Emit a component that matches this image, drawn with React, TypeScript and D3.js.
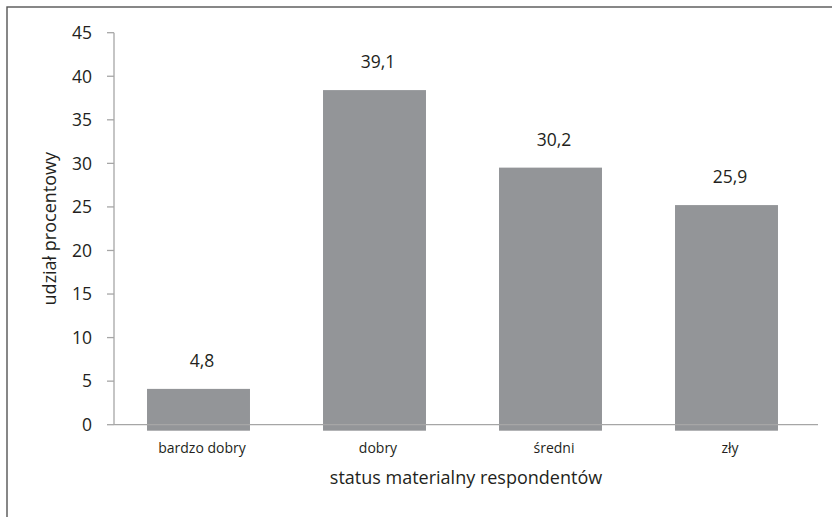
import React from "react";
import * as d3 from "d3";

const categories = ["bardzo dobry", "dobry", "średni", "zły"];
const values = [4.8, 39.1, 30.2, 25.9];
const yTicks = [0, 5, 10, 15, 20, 25, 30, 35, 40, 45];
const xTitle = "status materialny respondentów";
const yTitle = "udział procentowy";

const W = 832;
const H = 517;
const FONT = "'Open Sans', 'Noto Sans', sans-serif";
const TEXT = "#231f20";
const AXIS = "#a6a6a6";
const BAR = "#939598";

export default function App() {
  const x = d3
    .scaleBand<string>()
    .domain(categories)
    .range([114, 818])
    .paddingInner(0.415)
    .paddingOuter(0.2075);
  const y = d3.scaleLinear().domain([0, 45]).range([424.7, 32.7]);

  // bars sit slightly shifted from the axis frame, as in the original layout
  const barDx = -3.5;
  const barDy = 6;
  const fmt = (v: number) => v.toFixed(1).replace(".", ",");
  const step = x.step();
  const center = (c: string) => (x(c) as number) + x.bandwidth() / 2 - (step * 0.415) / 2 + (step * 0.415) / 2;

  return (
    <svg
      width={W}
      height={H}
      style={{ position: "absolute", left: 0, top: 0, display: "block", background: "#fff" }}
      fontFamily={FONT}
    >
      <rect x={0} y={0} width={W} height={H} fill="#fff" />
      <rect x={7} y={7} width={W + 20} height={H + 20} fill="none" stroke="#555" strokeWidth={1.4} />

      {categories.map((c, i) => (
        <rect
          key={c}
          x={(x(c) as number) + barDx}
          y={y(values[i]) + barDy}
          width={x.bandwidth()}
          height={y(0) - y(values[i])}
          fill={BAR}
        />
      ))}

      {/* y axis */}
      <line x1={114} x2={114} y1={y(45)} y2={y(0)} stroke={AXIS} strokeWidth={1.3} />
      {yTicks.map((t) => (
        <g key={t}>
          <line x1={107} x2={114} y1={y(t)} y2={y(t)} stroke={AXIS} strokeWidth={1.3} />
          <text
            x={92}
            y={y(t)}
            dy="0.36em"
            textAnchor="end"
            fontSize={17.5}
            fill={TEXT}
          >
            {t}
          </text>
        </g>
      ))}

      {/* x axis */}
      <line x1={114} x2={818} y1={y(0)} y2={y(0)} stroke={AXIS} strokeWidth={1.3} />
      {categories.map((c) => (
        <text
          key={c}
          x={center(c)}
          y={453}
          textAnchor="middle"
          fontSize={14}
          fill={TEXT}
        >
          {c}
        </text>
      ))}

      {/* value labels */}
      {categories.map((c, i) => (
        <text
          key={c}
          x={center(c)}
          y={y(values[i]) - 16}
          textAnchor="middle"
          fontSize={17.5}
          fill={TEXT}
        >
          {fmt(values[i])}
        </text>
      ))}

      <text x={466} y={484} textAnchor="middle" fontSize={18} fill={TEXT}>
        {xTitle}
      </text>
      <text
        transform={`translate(56, ${(y(0) + y(45)) / 2}) rotate(-90)`}
        textAnchor="middle"
        fontSize={18}
        fill={TEXT}
      >
        {yTitle}
      </text>
    </svg>
  );
}
